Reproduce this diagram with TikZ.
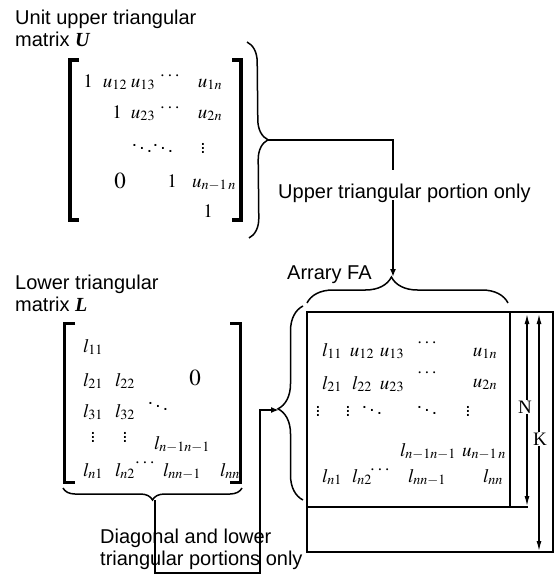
\documentclass[tikz,border=0pt]{standalone}
\usepackage{mathptmx}
\usepackage[no-math]{fontspec}
\setmainfont{Liberation Sans}
\newfontfamily\seriffont{Liberation Serif}
\usetikzlibrary{positioning,calc,decorations.pathreplacing,arrows.meta}

\begin{document}
\begin{tikzpicture}[
    x=1pt, y=-1pt,
    label/.style={font=\fontsize{20}{22}\selectfont, align=left, inner sep=0pt},
    entry/.style={font=\fontsize{19}{21}\selectfont, inner sep=0pt, anchor=base},
    dotsbox/.style={font=\fontsize{19}{21}\selectfont, inner sep=0pt},
    zero/.style={font=\fontsize{23}{25}\selectfont, inner sep=0pt, anchor=base},
    bracket/.style={line width=3.5pt},
    curly/.style={decorate, decoration={brace, amplitude=#1}, line width=1.5pt},
    link/.style={line width=2pt},
    frame/.style={line width=2.5pt},
    dim/.style={line width=1.3pt, {Latex[length=10pt,width=5pt]}-{Latex[length=10pt,width=5pt]}},
    letter/.style={font=\fontsize{19}{21}\selectfont\seriffont, fill=white, inner sep=1pt}
]
\useasboundingbox (0,0) rectangle (556,578);

% Matrix U
\node[label, anchor=north west] (ulabel) at (15,10) {Unit upper triangular\\matrix {\seriffont\bfseries\itshape U}};
\draw[bracket] (79,60) -- (70,60) -- (70,220) -- (79,220);
\draw[bracket] (232,60) -- (241,60) -- (241,220) -- (232,220);
\foreach \x/\y/\t [count=\i] in {88/87/1, 115/87/u_{12}, 143/87/u_{13}, 210/87/u_{1n},
    117/118/1, 143/118/u_{23}, 210/118/u_{2n},
    172/187/1, 214/187/u_{n-1\,n}, 208/217/1}
  \node[entry] (U\i) at (\x,\y) {$\t$};
\node[zero] (U0) at (120,188) {$0$};
\foreach \x/\y/\t [count=\i] in {170/76/\cdots, 170/108/\cdots, 142/145/\ddots, 163/145/\ddots, 203/145/\vdots}
  \node[dotsbox] (Ud\i) at (\x,\y) {$\t$};
\draw[curly=20pt] (247,42) -- (249,238);
\coordinate (utip) at (268,140);

% Matrix L
\node[label, anchor=north west] (llabel) at (15,275) {Lower triangular\\matrix {\seriffont\bfseries\itshape L}};
\draw[bracket, line width=3pt] (75,323) -- (64,323) -- (64,482) -- (75,482);
\draw[bracket, line width=3pt] (230,323) -- (240,323) -- (240,482) -- (230,482);
\foreach \x/\y/\t [count=\i] in {93/352/l_{11}, 93/386/l_{21}, 125/386/l_{22},
    93/417/l_{31}, 125/417/l_{32}, 182/449/l_{n-1n-1},
    93/476/l_{n1}, 125/476/l_{n2}, 182/476/l_{nn-1}, 230/476/l_{nn}}
  \node[entry] (L\i) at (\x,\y) {$\t$};
\node[zero] (L0) at (195,385) {$0$};
\foreach \x/\y/\t [count=\i] in {158/403/\ddots, 93/434/\vdots, 125/434/\vdots, 145/463/\cdots}
  \node[dotsbox] (Ld\i) at (\x,\y) {$\t$};
\draw[curly=12pt] (242,488) -- (63,488);
\coordinate (ltip) at (155,500);

% Array FA
\draw[frame] (307,312) rectangle (553,552);
\draw[frame] (510,312) -- (510,507);
\draw[frame] (307,507) -- (528,507);
\foreach \x/\y/\t [count=\i] in {332/356/l_{11}, 362/356/u_{12}, 392/356/u_{13}, 485/356/u_{1n},
    332/389/l_{21}, 362/389/l_{22}, 392/389/u_{23}, 485/387/u_{2n},
    428/456/l_{n-1n-1}, 484/456/u_{n-1\,n},
    332/482/l_{n1}, 362/482/l_{n2}, 427/482/l_{nn-1}, 493/482/l_{nn}}
  \node[entry] (F\i) at (\x,\y) {$\t$};
\foreach \x/\y/\t [count=\i] in {427/343/\cdots, 427/373/\cdots, 318/408/\vdots, 348/408/\vdots,
    372/407/\ddots, 427/407/\ddots, 468/408/\vdots, 380/470/\cdots}
  \node[dotsbox] (Fd\i) at (\x,\y) {$\t$};
\draw[dim] (527,314) -- (527,506);
\draw[dim] (539,314) -- (539,551);
\node[letter] (N) at (525,407) {N};
\node[letter] (K) at (540,439) {K};
\node[label, anchor=base west] (falabel) at (287,279) {Arrary FA};
\draw[curly=26pt, decoration={aspect=0.42}] (307,303) -- (508,303);
\draw[curly=25pt, decoration={aspect=0.47}] (303,500) -- (303,306);
\coordinate (fatip) at (393,277);
\coordinate (faltip) at (279,410);

% Upper portion link
\node[label, anchor=base west] (uplabel) at (278,198) {Upper triangular portion only};
\coordinate (ustop) at (393,170);
\coordinate (ustart) at (393,200);
\draw[link] (utip) -| (ustop);
\draw[link, -{Latex[length=8pt,width=6pt]}] (ustart) -- (fatip);

% Lower portion link
\node[label, anchor=north west] (lowlabel) at (100,529) {Diagonal and lower\\triangular portions only};
\coordinate (lcorner) at (260,573);
\draw[link, -{Latex[length=8pt,width=6pt]}] (ltip) |- (lcorner) |- (faltip);

\end{tikzpicture}
\end{document}
